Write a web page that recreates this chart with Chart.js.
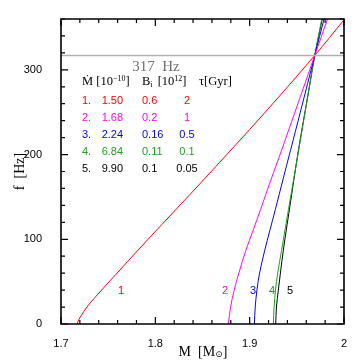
<!DOCTYPE html>
<html>
<head>
<meta charset="utf-8">
<script src="https://cdn.jsdelivr.net/npm/chart.js@4"></script>
</head>
<body style="margin:0;background:#fff">
<canvas id="c" width="363" height="363"></canvas>
<script>
// ---- Data ----
const seriesLabels = ['1', '2', '3', '4', '5'];
const seriesColors = ['#ff0000', '#ff00ff', '#0000ff', '#1fa01f', '#000000'];

// frequency f [Hz] and mass M [Msun] along each curve
const f1 = [0, 5, 10, 20, 30, 40, 99, 170, 250, 317, 359];
const m1 = [1.717, 1.7188, 1.7215, 1.7275, 1.735, 1.743, 1.7915, 1.851, 1.9165, 1.969, 2.0];
const f2 = [0, 20, 40, 60, 87, 110, 135, 170, 205, 250, 317, 362];
const m2 = [1.8774, 1.8798, 1.8836, 1.8885, 1.896, 1.9035, 1.9115, 1.9225, 1.9338, 1.948, 1.969, 1.9832];
const f3 = [0, 20, 40, 60, 87, 110, 135, 170, 205, 250, 317, 362];
const m3 = [1.905, 1.9059, 1.9077, 1.9105, 1.916, 1.9213, 1.9272, 1.9352, 1.9433, 1.9537, 1.969, 1.9793];
const f4 = [0, 20, 40, 60, 87, 135, 205, 276, 317, 362];
const m4 = [1.9251, 1.9259, 1.9274, 1.9297, 1.9338, 1.9411, 1.9519, 1.9627, 1.969, 1.9768];
const f5 = [0, 20, 40, 87, 135, 205, 276, 317, 362];
const m5 = [1.9276, 1.9284, 1.9304, 1.9357, 1.9421, 1.9517, 1.9627, 1.969, 1.9773];

const fTarget = 317;            // horizontal reference line [Hz]
const labelF = 39;              // curve-number labels height [Hz]
const labelM = [1.7636, 1.874, 1.9036, 1.9238, 1.9428];

// table
const mdotVals = ['1.50', '1.68', '2.24', '6.84', '9.90'];
const bVals = ['0.6', '0.2', '0.16', '0.11', '0.1'];
const tauVals = ['2', '1', '0.5', '0.1', '0.05'];

const xMin = 1.7, xMax = 2.0, yMin = 0, yMax = 360;

// ---- Build datasets ----
const fs = [f1, f2, f3, f4, f5];
const ms = [m1, m2, m3, m4, m5];
const datasets = fs.map((f, i) => ({
  label: seriesLabels[i],
  data: f.map((v, k) => ({x: ms[i][k], y: v})),
  borderColor: seriesColors[i],
  borderWidth: 1,
  pointRadius: 0,
  showLine: true,
  tension: 0.35,
  fill: false
}));
datasets.unshift({
  label: 'ref',
  data: [{x: xMin, y: fTarget}, {x: xMax, y: fTarget}],
  borderColor: '#b0b0b0',
  borderWidth: 1.6,
  pointRadius: 0,
  showLine: true,
  fill: false
});

const SANS = '"Liberation Sans", Arial, Helvetica, sans-serif';
const SERIF = '"Liberation Serif", "Times New Roman", "DejaVu Serif", serif';

function drawRich(ctx, parts, x, y) {
  let cx = x;
  ctx.textAlign = 'left';
  ctx.textBaseline = 'middle';
  for (const p of parts) {
    ctx.font = p.size + 'px ' + (p.font || SERIF);
    ctx.fillText(p.t, cx, y + (p.dy || 0));
    cx += ctx.measureText(p.t).width + (p.gap || 0);
  }
  return cx;
}
function richWidth(ctx, parts) {
  let w = 0;
  for (const p of parts) {
    ctx.font = p.size + 'px ' + (p.font || SERIF);
    w += ctx.measureText(p.t).width + (p.gap || 0);
  }
  return w;
}

const decor = {
  id: 'decor',
  afterDraw(chart) {
    const ctx = chart.ctx;
    const a = chart.chartArea;
    const xs = chart.scales.x, ys = chart.scales.y;
    ctx.save();

    // curve number labels
    ctx.font = '11px ' + SANS;
    ctx.textAlign = 'center';
    ctx.textBaseline = 'middle';
    for (let i = 0; i < 5; i++) {
      ctx.fillStyle = seriesColors[i];
      ctx.fillText(seriesLabels[i], xs.getPixelForValue(labelM[i]), ys.getPixelForValue(labelF));
    }

    // 317 Hz label
    ctx.fillStyle = '#707070';
    ctx.font = '15px ' + SERIF;
    ctx.fillText(fTarget + '  Hz', a.left + 95, a.top + 48);

    // table header
    ctx.fillStyle = '#000';
    const hy = a.top + 62.5;
    drawRich(ctx, [
      {t: 'Ṁ [10', size: 12.5},
      {t: '−10', size: 8, dy: -3},
      {t: ']', size: 12.5}
    ], a.left + 21, hy);
    drawRich(ctx, [
      {t: 'B', size: 12.5},
      {t: 'i', size: 8, dy: 3, gap: 2},
      {t: ' [10', size: 12.5},
      {t: '12', size: 8, dy: -3},
      {t: ']', size: 12.5}
    ], a.left + 81, hy);
    drawRich(ctx, [{t: 'τ[Gyr]', size: 12.5}], a.left + 138, hy);

    // table rows
    for (let i = 0; i < 5; i++) {
      const ry = a.top + 81.5 + i * 17.2;
      ctx.fillStyle = seriesColors[i];
      ctx.font = '11px ' + SANS;
      ctx.textBaseline = 'middle';
      ctx.textAlign = 'left';
      ctx.fillText(seriesLabels[i] + '.', a.left + 21, ry);
      ctx.fillText(mdotVals[i], a.left + 40.7, ry);
      ctx.fillText(bVals[i], a.left + 81, ry);
      ctx.textAlign = 'center';
      ctx.fillText(tauVals[i], a.left + 126, ry);
    }

    // x axis title
    ctx.fillStyle = '#000';
    const xParts = [
      {t: 'M  [M', size: 14},
      {t: '⊙', size: 9, dy: 3},
      {t: ']', size: 14}
    ];
    const xw = richWidth(ctx, xParts);
    drawRich(ctx, xParts, (a.left + a.right) / 2 - xw / 2 + 0.5, 352);

    // y axis title
    ctx.save();
    ctx.translate(20, (a.top + a.bottom) / 2);
    ctx.rotate(-Math.PI / 2);
    ctx.font = '14px ' + SERIF;
    ctx.textAlign = 'center';
    ctx.textBaseline = 'middle';
    ctx.fillText('f  [Hz]', 0, 0);
    ctx.restore();

    // inward tick marks
    ctx.strokeStyle = '#000';
    ctx.lineWidth = 1.2;
    const Lc = a.left, Rc = a.right, Tr = a.top, Br = a.bottom;
    ctx.beginPath();
    for (let k = 0; k <= 15; k++) {
      const px = xs.getPixelForValue(xMin + k * 0.02);
      const L = (k % 5 === 0) ? 7 : 4;
      ctx.moveTo(px, Br); ctx.lineTo(px, Br - L);
      ctx.moveTo(px, Tr); ctx.lineTo(px, Tr + L);
    }
    for (let k = 0; k <= 18; k++) {
      const py = ys.getPixelForValue(k * 20);
      const L = (k % 5 === 0) ? 7 : 4;
      ctx.moveTo(Lc, py); ctx.lineTo(Lc + L, py);
      ctx.moveTo(Rc, py); ctx.lineTo(Rc - L, py);
    }
    ctx.stroke();

    // frame
    ctx.lineWidth = 1.6;
    ctx.beginPath();
    ctx.moveTo(Lc, Tr); ctx.lineTo(Rc, Tr); ctx.lineTo(Rc, Br); ctx.lineTo(Lc, Br); ctx.closePath();
    ctx.stroke();

    ctx.restore();
  }
};

new Chart(document.getElementById('c'), {
  type: 'scatter',
  data: {datasets},
  options: {
    responsive: false,
    animation: false,
    devicePixelRatio: 1,
    layout: {padding: {top: 19, right: 19, left: 0, bottom: 0}},
    plugins: {legend: {display: false}, tooltip: {enabled: false}, title: {display: false}},
    scales: {
      x: {
        type: 'linear', min: xMin, max: xMax,
        grid: {display: false},
        border: {display: false},
        ticks: {
          stepSize: 0.1, padding: 5, color: '#000',
          font: {family: SANS, size: 11},
          callback: v => String(+Number(v).toFixed(1)),
          maxRotation: 0
        },
        afterFit: s => { s.height = 39; }
      },
      y: {
        type: 'linear', min: yMin, max: yMax,
        grid: {display: false},
        border: {display: false},
        ticks: {
          stepSize: 100, padding: 11, color: '#000',
          font: {family: SANS, size: 11},
          callback: v => (v % 100 === 0 ? String(v) : '')
        },
        afterFit: s => { s.width = 61; }
      }
    }
  },
  plugins: [decor]
});
</script>
</body>
</html>
